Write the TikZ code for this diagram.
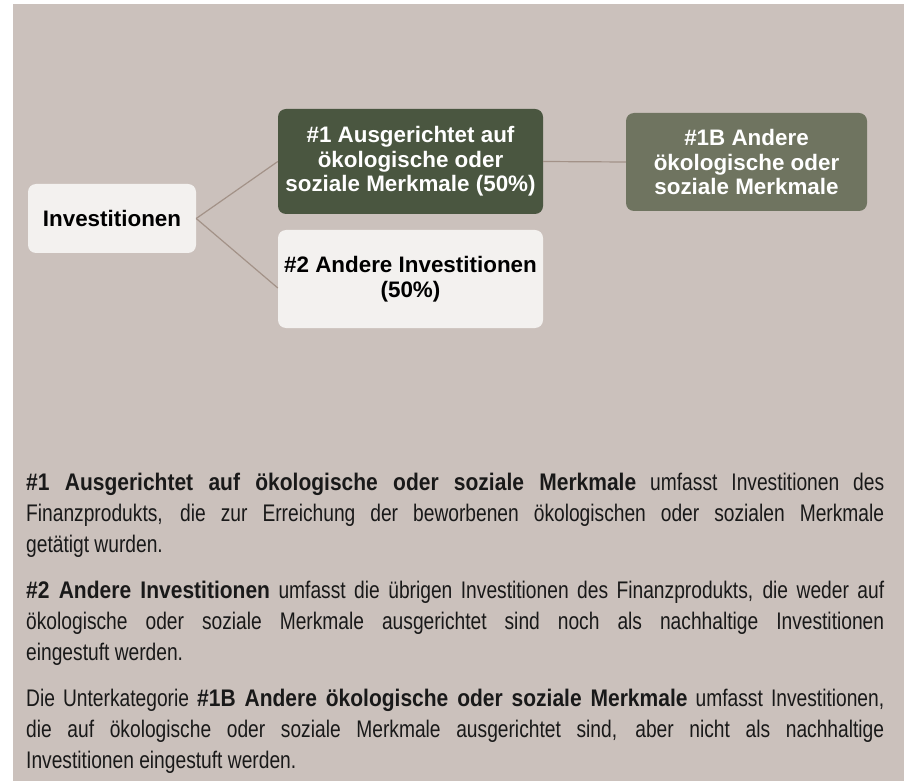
\documentclass[tikz,border=0pt]{standalone}
\usepackage{fontspec}
\setmainfont{Liberation Sans}
\newfontfamily\bodyfont[FakeStretch=0.80]{Liberation Sans}
\newfontfamily\bodyboldfont[FakeStretch=0.875]{Liberation Sans}
\newcommand\hlbold[1]{{\bodyboldfont\bfseries #1}}
\definecolor{bg}{RGB}{203,193,188}
\definecolor{lightbox}{RGB}{243,241,239}
\definecolor{darkgreen}{RGB}{74,86,64}
\definecolor{midgreen}{RGB}{111,116,96}
\definecolor{linkc}{RGB}{163,146,136}
\definecolor{bodytext}{RGB}{25,25,25}
\begin{document}
\begin{tikzpicture}[x=1pt,y=-1pt,
  boxbase/.style={rectangle, rounded corners=8pt, inner sep=0pt, align=center,
    font=\fontsize{22.4pt}{24.5pt}\selectfont\bfseries},
  lightstep/.style={boxbase, fill=lightbox, text=black},
  darkstep/.style={boxbase, fill=darkgreen, text=white},
  midstep/.style={boxbase, fill=midgreen, text=white},
  link/.style={draw=linkc, line width=1.2pt},
  para/.style={anchor=base west, inner sep=0pt, text=bodytext}]
\useasboundingbox (0,0) rectangle (904,783);
\fill[white] (0,0) rectangle (904,783);
\fill[bg] (13,4) rectangle (904,781);
\node[lightstep, minimum width=168pt, minimum height=69pt] (inv) at (112,218.5) {Investitionen};
\node[darkstep, minimum width=265pt, minimum height=105pt] (b1) at (410.5,161.5) {\#1 Ausgerichtet auf\\ökologische oder\\soziale Merkmale (50\%)};
\node[lightstep, minimum width=265pt, minimum height=98pt] (b2) at (410.5,279) {\#2 Andere Investitionen\\(50\%)};
\node[midstep, minimum width=241pt, minimum height=98pt] (b1b) at (746.5,162) {\#1B Andere\\ökologische oder\\soziale Merkmale};
\draw[link] (inv.east) -- (b1.west);
\draw[link] (inv.east) -- ([yshift=-9pt]b2.west);
\draw[link] (b1.east) -- (b1b.west);
\node[para] (p1) at (26,490) {\parbox[t]{858pt}{\bodyfont\fontsize{24pt}{31pt}\selectfont
\hlbold{\#1 Ausgerichtet auf ökologische oder soziale Merkmale} umfasst Investitionen des\linebreak
Finanzprodukts, die zur Erreichung der beworbenen ökologischen oder sozialen Merkmale\linebreak
getätigt wurden.}};
\node[para] (p2) at (26,598) {\parbox[t]{858pt}{\bodyfont\fontsize{24pt}{31pt}\selectfont
\hlbold{\#2 Andere Investitionen} umfasst die übrigen Investitionen des Finanzprodukts, die weder auf\linebreak
ökologische oder soziale Merkmale ausgerichtet sind noch als nachhaltige Investitionen\linebreak
eingestuft werden.}};
\node[para] (p3) at (26,706) {\parbox[t]{858pt}{\bodyfont\fontsize{24pt}{31pt}\selectfont
Die Unterkategorie \hlbold{\#1B Andere ökologische oder soziale Merkmale} umfasst Investitionen,\linebreak
die auf ökologische oder soziale Merkmale ausgerichtet sind, aber nicht als nachhaltige\linebreak
Investitionen eingestuft werden.}};
\end{tikzpicture}
\end{document}
